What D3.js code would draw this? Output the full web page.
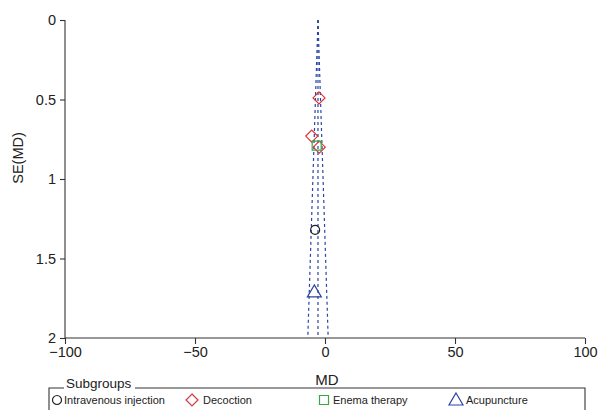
<!DOCTYPE html>
<html>
<head>
<meta charset="utf-8">
<script src="https://cdn.jsdelivr.net/npm/d3@7"></script>
<style>
  body { margin: 0; background: #fff; }
  svg text { font-family: "Liberation Sans", Arial, sans-serif; fill: #222; }
</style>
</head>
<body>
<div id="viz"></div>
<script>
// data
let groups = ['Intravenous injection', 'Decoction', 'Enema therapy', 'Acupuncture'];
let groupColors = ['#222222', '#d8363a', '#3aa646', '#2a44a8'];
let groupShapes = ['circle', 'diamond', 'square', 'triangle'];

let studyGroup = [1, 1, 1, 2, 0, 3];
let studyMD = [-2.3, -5.1, -2.2, -3.2, -3.8, -4.1];
let studySE = [0.49, 0.73, 0.80, 0.79, 1.32, 1.71];

let pooledMD = -2.7;
let xTicks = [-100, -50, 0, 50, 100];
let yTicks = [0, 0.5, 1, 1.5, 2];

// draw
let svg = d3
  .select('#viz')
  .append('svg')
  .attr('width', 600)
  .attr('height', 410);

let x = d3.scaleLinear().domain([-100, 100]).range([65, 585]);
let y = d3.scaleLinear().domain([0, 2]).range([20, 338]);

let axisColor = '#333';

// y axis
let yAxis = svg
  .append('g')
  .attr('transform', 'translate(65,0)')
  .call(d3.axisLeft(y).tickValues(yTicks).tickSize(5).tickPadding(4).tickFormat(d3.format('')));

// x axis
let xAxis = svg
  .append('g')
  .attr('transform', 'translate(0,338)')
  .call(d3.axisBottom(x).tickValues(xTicks).tickSize(6).tickPadding(3));

[xAxis, yAxis].forEach((a) => {
  a.select('.domain').attr('stroke', axisColor).attr('stroke-width', 1.1);
  a.selectAll('.tick line').attr('stroke', axisColor).attr('stroke-width', 1.1);
  a.selectAll('.tick text')
    .attr('fill', '#222')
    .style('font-size', '14.5px')
    .style('font-family', '"Liberation Sans", Arial, sans-serif');
});
yAxis.select('.domain').attr('d', 'M0,' + y(0) + 'V' + y(2));
xAxis.select('.domain').attr('d', 'M' + x(-100) + ',0H' + x(100));

svg
  .append('text')
  .attr('transform', 'translate(23,158) rotate(-90)')
  .attr('text-anchor', 'middle')
  .style('font-size', '14.5px')
  .text('SE(MD)');

svg
  .append('text')
  .attr('x', 327)
  .attr('y', 385)
  .attr('text-anchor', 'middle')
  .style('font-size', '15px')
  .text('MD');

// funnel lines
let funnel = [
  [pooledMD, pooledMD],
  [pooledMD, pooledMD - 1.96 * 2],
  [pooledMD, pooledMD + 1.96 * 2]
];
svg
  .append('g')
  .selectAll('line')
  .data(funnel)
  .enter()
  .append('line')
  .attr('x1', (d) => x(d[0]))
  .attr('y1', y(0))
  .attr('x2', (d) => x(d[1]))
  .attr('y2', y(2))
  .attr('stroke', '#2a44a8')
  .attr('stroke-width', 1.2)
  .attr('stroke-dasharray', '3,3');

// marker shapes
function markerPath(shape) {
  if (shape === 'circle') {
    return d3.symbol().type(d3.symbolCircle).size(64)();
  } else if (shape === 'diamond') {
    return 'M0,-6L6,0L0,6L-6,0Z';
  } else if (shape === 'square') {
    return 'M-4.5,-4.5H4.5V4.5H-4.5Z';
  } else {
    return 'M0,-7L7,5L-7,5Z';
  }
}

let pts = d3.range(studyMD.length);
svg
  .append('g')
  .selectAll('path')
  .data(pts)
  .enter()
  .append('path')
  .attr('transform', (i) => 'translate(' + x(studyMD[i]) + ',' + y(studySE[i]) + ')')
  .attr('d', (i) => markerPath(groupShapes[studyGroup[i]]))
  .attr('fill', 'none')
  .attr('stroke', (i) => groupColors[studyGroup[i]])
  .attr('stroke-width', 1.2);

// legend
let legend = svg.append('g');
legend
  .append('path')
  .attr('d', 'M64,388H49V420M135,388H585V420')
  .attr('fill', 'none')
  .attr('stroke', axisColor)
  .attr('stroke-width', 1.1);

legend
  .append('text')
  .attr('x', 66)
  .attr('y', 388)
  .style('font-size', '13.5px')
  .text('Subgroups');

let legendX = [57, 192, 324, 456];
let items = legend
  .selectAll('g.item')
  .data(groups)
  .enter()
  .append('g')
  .attr('class', 'item')
  .attr('transform', (d, i) => 'translate(' + legendX[i] + ',400)');

items
  .append('path')
  .attr('d', (d, i) => markerPath(groupShapes[i]))
  .attr('fill', 'none')
  .attr('stroke', (d, i) => groupColors[i])
  .attr('stroke-width', 1.2);

items
  .append('text')
  .attr('x', (d, i) => [7, 11, 9, 10][i])
  .attr('y', 4)
  .style('font-size', '11px')
  .attr('fill', '#333')
  .text((d) => d);
</script>
</body>
</html>
